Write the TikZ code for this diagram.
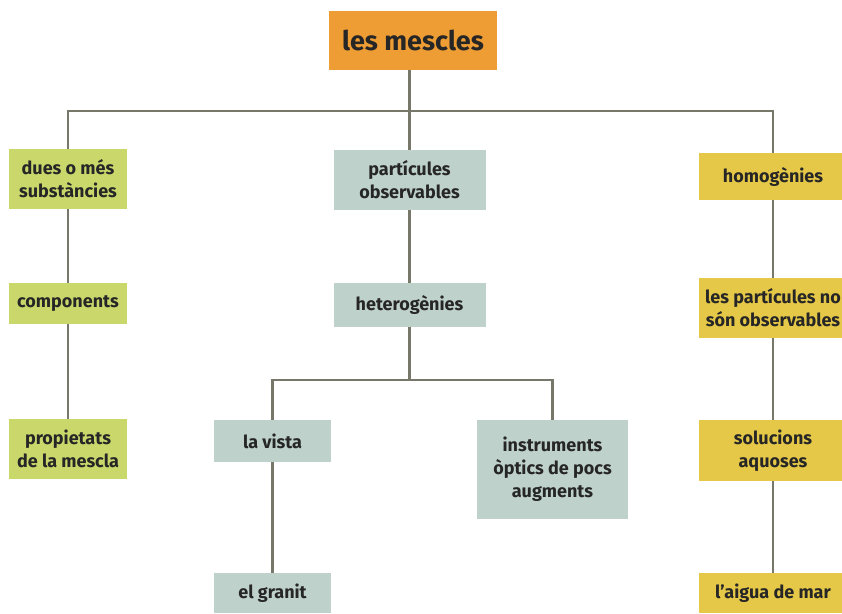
\documentclass[tikz,border=0pt]{standalone}
\usepackage{fontspec}
\setmainfont{Fira Sans}
\usepackage{xcolor}
\usepackage{tikz}
\definecolor{taronja}{HTML}{EE9D34}
\definecolor{verd}{HTML}{CAD86B}
\definecolor{gris}{HTML}{BFD1CB}
\definecolor{groc}{HTML}{E5C847}
\definecolor{linia}{HTML}{77786A}
\newcommand{\cx}{\fontsize{18}{23}\selectfont\bfseries}

\begin{document}
\begin{tikzpicture}[x = 1pt, y = -1pt,
    caixa/.style = {inner sep = 0pt, align = center, font = \cx, text = black!85},
    conn/.style = {draw = linia, line width = 2.8pt}]
    \clip (0,0) rectangle (842,613);
    \fill[white] (0,0) rectangle (842,613);
    \node[caixa, fill = taronja, minimum width = 168, minimum height = 59,
      font = \fontsize{27}{30}\selectfont\bfseries] (title) at (413,40.5) {les mescles};
    % columna esquerra
    \node[caixa, fill = verd, minimum width = 118, minimum height = 60] (dues) at (68,179) {dues o més\\substàncies};
    \node[caixa, fill = verd, minimum width = 118, minimum height = 41] (comp) at (68,303.5) {components};
    \node[caixa, fill = verd, minimum width = 118, minimum height = 60] (prop) at (68,449) {propietats\\de la mescla};
    % columna central
    \node[caixa, fill = gris, minimum width = 152, minimum height = 60] (part) at (409.5,180) {partícules\\observables};
    \node[caixa, fill = gris, minimum width = 152, minimum height = 44] (het) at (409.5,305) {heterogènies};
    \node[caixa, fill = gris, minimum width = 117, minimum height = 42] (vista) at (272.5,441) {la vista};
    \node[caixa, fill = gris, minimum width = 151, minimum height = 99] (instr) at (552.5,469.5) {instruments\\òptics de pocs\\augments};
    \node[caixa, fill = gris, minimum width = 117, minimum height = 40] (granit) at (272.5,593) {el granit};
    % columna dreta
    \node[caixa, fill = groc, minimum width = 148, minimum height = 47] (homog) at (773,176.5) {homogènies};
    \node[caixa, fill = groc, minimum width = 148, minimum height = 60] (nopart) at (773,308) {les partícules no\\són observables};
    \node[caixa, fill = groc, minimum width = 148, minimum height = 61] (sol) at (773,450.5) {solucions\\aquoses};
    \node[caixa, fill = groc, minimum width = 148, minimum height = 40] (aigua) at (773,593) {l’aigua de mar};

    \coordinate (bus) at (409.5,111);
    \coordinate (hbus) at (409.5,380);
    \draw[conn] (title.south -| bus) -- (bus);
    \draw[conn] (dues.north) |- (bus) -| (homog.north);
    \draw[conn] (bus) -- (part);
    \draw[conn] (het) -- (hbus);
    \draw[conn] (vista.north) |- (hbus) -| (instr.north);
    \foreach \i\j in {dues/comp, comp/prop, part/het, vista/granit, homog/nopart, nopart/sol, sol/aigua} {
      \draw[conn] (\i) -- (\j);
    }
\end{tikzpicture}
\end{document}
